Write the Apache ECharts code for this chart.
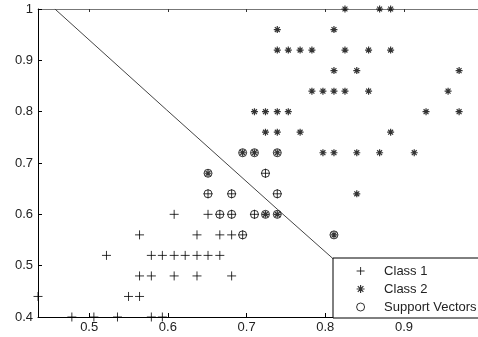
<!DOCTYPE html>
<html>
<head>
<meta charset="utf-8">
<script src="https://cdn.jsdelivr.net/npm/echarts@6/dist/echarts.min.js"></script>
<style>
html,body{margin:0;padding:0;background:#fff;}
#c{width:478px;height:337px;}
</style>
</head>
<body>
<div id="c"></div>
<script>
const xTicks = [0.5, 0.6, 0.7, 0.8, 0.9];
const yTicks = [0.4, 0.5, 0.6, 0.7, 0.8, 0.9, 1];

const class1Points = [
  [0.478,0.40],[0.506,0.40],[0.536,0.40],[0.579,0.40],[0.593,0.40],
  [0.435,0.44],[0.550,0.44],[0.564,0.44],
  [0.564,0.48],[0.579,0.48],[0.608,0.48],[0.637,0.48],[0.681,0.48],
  [0.522,0.52],[0.579,0.52],[0.593,0.52],[0.608,0.52],[0.622,0.52],[0.637,0.52],[0.651,0.52],[0.666,0.52],
  [0.564,0.56],[0.637,0.56],[0.666,0.56],[0.681,0.56],[0.695,0.56],
  [0.608,0.60],[0.651,0.60],[0.666,0.60],[0.681,0.60],[0.710,0.60],
  [0.651,0.64],[0.681,0.64],[0.739,0.64],
  [0.724,0.68]
];

const class2Points = [
  [0.825,1.00],[0.869,1.00],[0.883,1.00],
  [0.739,0.96],[0.811,0.96],
  [0.739,0.92],[0.753,0.92],[0.768,0.92],[0.783,0.92],[0.825,0.92],[0.855,0.92],[0.883,0.92],
  [0.811,0.88],[0.840,0.88],[0.970,0.88],
  [0.783,0.84],[0.797,0.84],[0.811,0.84],[0.825,0.84],[0.855,0.84],[0.956,0.84],
  [0.710,0.80],[0.724,0.80],[0.739,0.80],[0.753,0.80],[0.928,0.80],[0.970,0.80],
  [0.724,0.76],[0.739,0.76],[0.768,0.76],[0.883,0.76],
  [0.695,0.72],[0.710,0.72],[0.739,0.72],[0.797,0.72],[0.811,0.72],[0.840,0.72],[0.869,0.72],[0.913,0.72],
  [0.651,0.68],
  [0.840,0.64],
  [0.724,0.60],[0.739,0.60],
  [0.811,0.56]
];

const supportVectors = [
  [0.695,0.72],[0.710,0.72],[0.739,0.72],[0.651,0.68],[0.724,0.60],[0.739,0.60],[0.811,0.56],
  [0.724,0.68],[0.651,0.64],[0.681,0.64],[0.739,0.64],[0.666,0.60],[0.681,0.60],[0.710,0.60],[0.695,0.56]
];

const boundary = [[0.4565,1.0],[0.598,0.804],[0.739,0.610],[0.8103,0.513],[0.86,0.445]];

const seriesNames = ['Class 1', 'Class 2', 'Support Vectors'];

const plusPath = 'path://M0,5L10,5M5,0L5,10';
const starPath = 'path://M0,5L10,5M5,0L5,10M1.5,1.5L8.5,8.5M8.5,1.5L1.5,8.5';
const font = 'Liberation Sans, Arial, sans-serif';

const chart = echarts.init(document.getElementById('c'), null, {renderer: 'canvas'});
chart.setOption({
  animation: false,
  backgroundColor: '#fff',
  grid: {left: 38, right: 0, top: 9, bottom: 20, containLabel: false},
  xAxis: [{
    type: 'value', min: 0.435, max: 0.994, position: 'bottom',
    axisLine: {show: true, onZero: false, lineStyle: {color: '#000', width: 1}},
    axisTick: {show: true, inside: true, length: 4, customValues: xTicks, lineStyle: {color: '#000'}},
    axisLabel: {customValues: xTicks, color: '#222', fontSize: 13, fontFamily: font, margin: 4,
      formatter: v => String(v)},
    splitLine: {show: false}
  }, {
    type: 'value', min: 0.435, max: 0.994, position: 'top',
    axisLine: {show: true, onZero: false, lineStyle: {color: '#777', width: 1}},
    axisTick: {show: true, inside: true, length: 3, customValues: xTicks, lineStyle: {color: '#333'}},
    axisLabel: {show: false},
    splitLine: {show: false}
  }],
  yAxis: [{
    type: 'value', min: 0.4, max: 1, interval: 0.1, position: 'left',
    axisLine: {show: true, onZero: false, lineStyle: {color: '#000', width: 1}},
    axisTick: {show: true, inside: true, length: 4, lineStyle: {color: '#000'}},
    axisLabel: {color: '#222', fontSize: 13, fontFamily: font, margin: 5,
      formatter: v => String(Math.round(v * 10) / 10)},
    splitLine: {show: false}
  }],
  legend: {
    orient: 'vertical', left: 333, top: 258,
    padding: [6, 45, 4, 23],
    itemWidth: 37, itemHeight: 8, itemGap: 4,
    backgroundColor: '#fff', borderColor: '#000', borderWidth: 1, borderRadius: 0,
    textStyle: {color: '#222', fontSize: 13, fontFamily: font, lineHeight: 14},
    selectedMode: false,
    data: [
      {name: seriesNames[0], icon: plusPath, itemStyle: {color: 'rgba(0,0,0,0)', borderColor: '#000', borderWidth: 1}},
      {name: seriesNames[1], icon: starPath, itemStyle: {color: 'rgba(0,0,0,0)', borderColor: '#000', borderWidth: 1.2}},
      {name: seriesNames[2], icon: 'circle', itemStyle: {color: 'rgba(0,0,0,0)', borderColor: '#000', borderWidth: 1}}
    ],
    z: 10
  },
  series: [{
    name: 'boundary', type: 'line', data: boundary, showSymbol: false, symbol: 'none',
    lineStyle: {color: '#444', width: 1}, silent: true, z: 1
  }, {
    name: seriesNames[0], type: 'scatter', data: class1Points, symbol: plusPath, symbolSize: 9,
    itemStyle: {color: 'rgba(0,0,0,0)', borderColor: '#000', borderWidth: 1}, clip: false, z: 2
  }, {
    name: seriesNames[1], type: 'scatter', data: class2Points, symbol: starPath, symbolSize: 7,
    itemStyle: {color: 'rgba(0,0,0,0)', borderColor: '#000', borderWidth: 1.2}, clip: false, z: 2
  }, {
    name: seriesNames[2], type: 'scatter', data: supportVectors, symbol: 'circle', symbolSize: 8,
    itemStyle: {color: 'rgba(0,0,0,0)', borderColor: '#000', borderWidth: 1}, clip: false, z: 3
  }]
});
</script>
</body>
</html>
